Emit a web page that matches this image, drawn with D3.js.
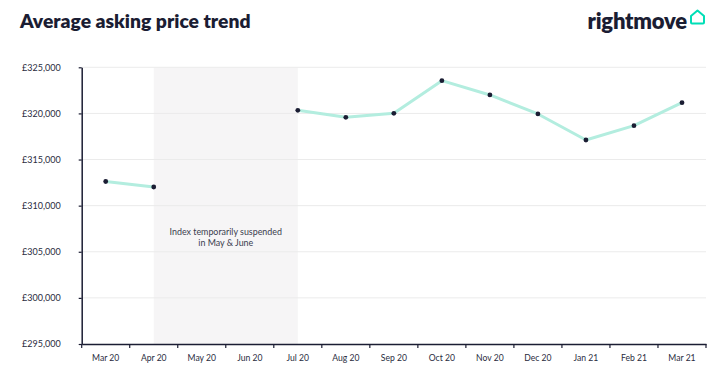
<!DOCTYPE html>
<html>
<head>
<meta charset="utf-8">
<script src="https://cdn.jsdelivr.net/npm/d3@7"></script>
<style>
  html, body { margin: 0; padding: 0; background: #fff; }
  svg { display: block; }
</style>
</head>
<body>
<svg id="chart" width="720" height="371"></svg>
<script>
const months = ["Mar 20","Apr 20","May 20","Jun 20","Jul 20","Aug 20","Sep 20","Oct 20","Nov 20","Dec 20","Jan 21","Feb 21","Mar 21"];
const prices = [312620, 312020, null, null, 320340, 319580, 320010, 323550, 322000, 319940, 317120, 318670, 321160];
const yTicks = [295000, 300000, 305000, 310000, 315000, 320000, 325000];
const suspendedFrom = "Apr 20";
const suspendedTo = "Jul 20";
const noteLines = ["Index temporarily suspended", "in May & June"];
const title = "Average asking price trend";

const navy = "#1b1d33";
const font = "Lato, 'Open Sans', sans-serif";
const svg = d3.select("#chart");

const x = d3.scaleBand().domain(months).range([81.7, 706]).padding(0);
const y = d3.scaleLinear().domain([295000, 325000]).range([344, 67.3]);
const cx = d => x(d) + x.bandwidth() / 2;

// title
svg.append("text").attr("x", 20).attr("y", 27.5)
  .attr("font-family", font).attr("font-weight", 800).attr("font-size", 19.3)
  .attr("fill", navy).text(title);

// logo
svg.append("text").attr("x", 687).attr("y", 29).attr("text-anchor", "end")
  .attr("font-family", font).attr("font-weight", 800).attr("font-size", 22)
  .attr("fill", navy).attr("letter-spacing", -0.2).text("rightmove");
svg.append("path")
  .attr("d", "M691,22.5 L691,16 L697.5,10.5 L704,16 L704,22.5 Q704,23.5 703,23.5 L692,23.5 Q691,23.5 691,22.5 Z")
  .attr("fill", "none").attr("stroke", "#00deb6").attr("stroke-width", 2).attr("stroke-linejoin", "round");

// suspended region
svg.append("rect")
  .attr("x", cx(suspendedFrom)).attr("y", y(325000))
  .attr("width", cx(suspendedTo) - cx(suspendedFrom))
  .attr("height", y(295000) - y(325000))
  .attr("fill", "#f6f5f6");

// gridlines
svg.append("g").selectAll("line").data(yTicks.filter(t => t !== 295000)).join("line")
  .attr("x1", x.range()[0]).attr("x2", x.range()[1])
  .attr("y1", d => y(d)).attr("y2", d => y(d))
  .attr("stroke", "#ebebeb").attr("stroke-width", 1);

// note
const noteX = (cx(suspendedFrom) + cx(suspendedTo)) / 2;
svg.append("text").attr("x", noteX).attr("y", 235)
  .attr("text-anchor", "middle").attr("font-family", font).attr("font-size", 8.9)
  .attr("fill", "#3a3c4e")
  .selectAll("tspan").data(noteLines).join("tspan")
  .attr("x", noteX).attr("dy", (d, i) => i === 0 ? 0 : 10.6).text(d => d);

// y axis
const yAxis = d3.axisLeft(y).tickValues(yTicks).tickSize(3).tickSizeOuter(0)
  .tickFormat(d => "£" + d3.format(",")(d));
const gy = svg.append("g").attr("transform", `translate(${x.range()[0]},0)`).call(yAxis);
gy.select(".domain").attr("stroke", navy).attr("stroke-width", 1.5);
gy.selectAll(".tick line").attr("stroke", navy).attr("stroke-width", 1.2);
gy.selectAll(".tick text").attr("x", -21).attr("font-family", font).attr("font-size", 9).attr("fill", "#2a2c3e");

// x axis
const xAxis = d3.axisBottom(x).tickSize(0).tickSizeOuter(0).tickPadding(11);
const gx = svg.append("g").attr("transform", `translate(0,${y(295000)})`).call(xAxis);
gx.select(".domain").attr("stroke", navy).attr("stroke-width", 1.5);
gx.selectAll(".tick text").attr("font-family", font).attr("font-size", 8.6).attr("fill", "#2a2c3e");
gx.append("g").selectAll("line").data(months.map(m => x(m)).concat([x.range()[1]])).join("line")
  .attr("x1", d => d).attr("x2", d => d).attr("y1", 0).attr("y2", 4)
  .attr("stroke", navy).attr("stroke-width", 1.2);

// line
const pts = months.map((m, i) => ({ m, v: prices[i] }));
const line = d3.line().defined(d => d.v !== null).x(d => cx(d.m)).y(d => y(d.v));
svg.append("path").datum(pts).attr("d", line)
  .attr("fill", "none").attr("stroke", "#b3eddf").attr("stroke-width", 3)
  .attr("stroke-linejoin", "round");

svg.append("g").selectAll("circle").data(pts.filter(d => d.v !== null)).join("circle")
  .attr("cx", d => cx(d.m)).attr("cy", d => y(d.v)).attr("r", 2.4)
  .attr("fill", navy);
</script>
</body>
</html>
